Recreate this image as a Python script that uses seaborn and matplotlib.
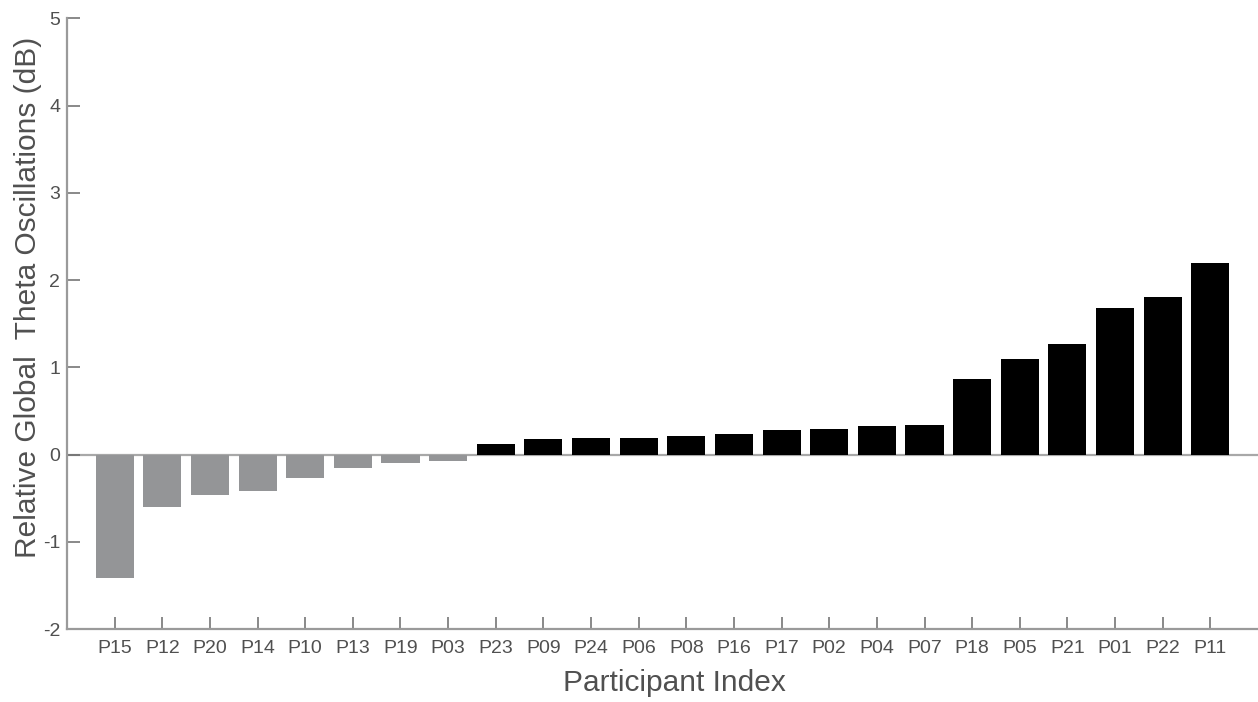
import matplotlib
matplotlib.use("Agg")
import matplotlib.pyplot as plt
import seaborn as sns
import pandas as pd

# Participants sorted by relative global theta power change
participants = ["P15", "P12", "P20", "P14", "P10", "P13", "P19", "P03",
                "P23", "P09", "P24", "P06", "P08", "P16", "P17", "P02",
                "P04", "P07", "P18", "P05", "P21", "P01", "P22", "P11"]
theta_db = [-1.41, -0.60, -0.46, -0.42, -0.27, -0.16, -0.10, -0.07,
            0.12, 0.18, 0.19, 0.19, 0.21, 0.24, 0.28, 0.29,
            0.33, 0.34, 0.87, 1.10, 1.27, 1.68, 1.81, 2.20]
y_ticks = [-2, -1, 0, 1, 2, 3, 4, 5]

GRAY = "#939598"
BLACK = "#000000"
TEXT = "#505050"
AXIS = "#9a9a9a"

df = pd.DataFrame({"participant": participants, "theta": theta_db})
df["direction"] = ["decrease" if v < 0 else "increase" for v in df["theta"]]

sns.set_style("white")
plt.rcParams["font.family"] = ["Liberation Sans", "DejaVu Sans"]

fig = plt.figure(figsize=(12.58, 7.02), dpi=100)
ax = fig.add_axes([67 / 1258, 73 / 702, 1 - 67 / 1258, (629 - 18.3) / 702])

ax.axhline(0, color="#a8a8a8", lw=1.6, zorder=0)
sns.barplot(data=df, x="participant", y="theta", hue="direction",
            palette={"decrease": GRAY, "increase": BLACK},
            order=participants, dodge=False, width=0.8,
            linewidth=0, edgecolor="none", legend=False, ax=ax, zorder=2)

ax.set_xlim(-1, 24)
ax.set_ylim(-2, 5)
ax.set_yticks(y_ticks)
ax.set_yticklabels([str(t) for t in y_ticks])

for side in ("top", "right"):
    ax.spines[side].set_visible(False)
for side in ("left", "bottom"):
    ax.spines[side].set_color(AXIS)
    ax.spines[side].set_linewidth(1.6)

ax.tick_params(axis="both", direction="in", length=9, width=1.1,
               color="#6a6a6a", labelsize=14, labelcolor=TEXT,
               bottom=True, left=True, top=False, right=False)
ax.tick_params(axis="y", pad=5)
ax.tick_params(axis="x", pad=8)

ax.set_xlabel("Participant Index", fontsize=21.5, color=TEXT)
ax.set_ylabel("Relative Global  Theta Oscillations (dB)", fontsize=21.5, color=TEXT)
ax.xaxis.set_label_coords(0.5097, -0.065)
ax.yaxis.set_label_coords(-0.021, 0.5426)

fig.savefig("out.png", dpi=100)
